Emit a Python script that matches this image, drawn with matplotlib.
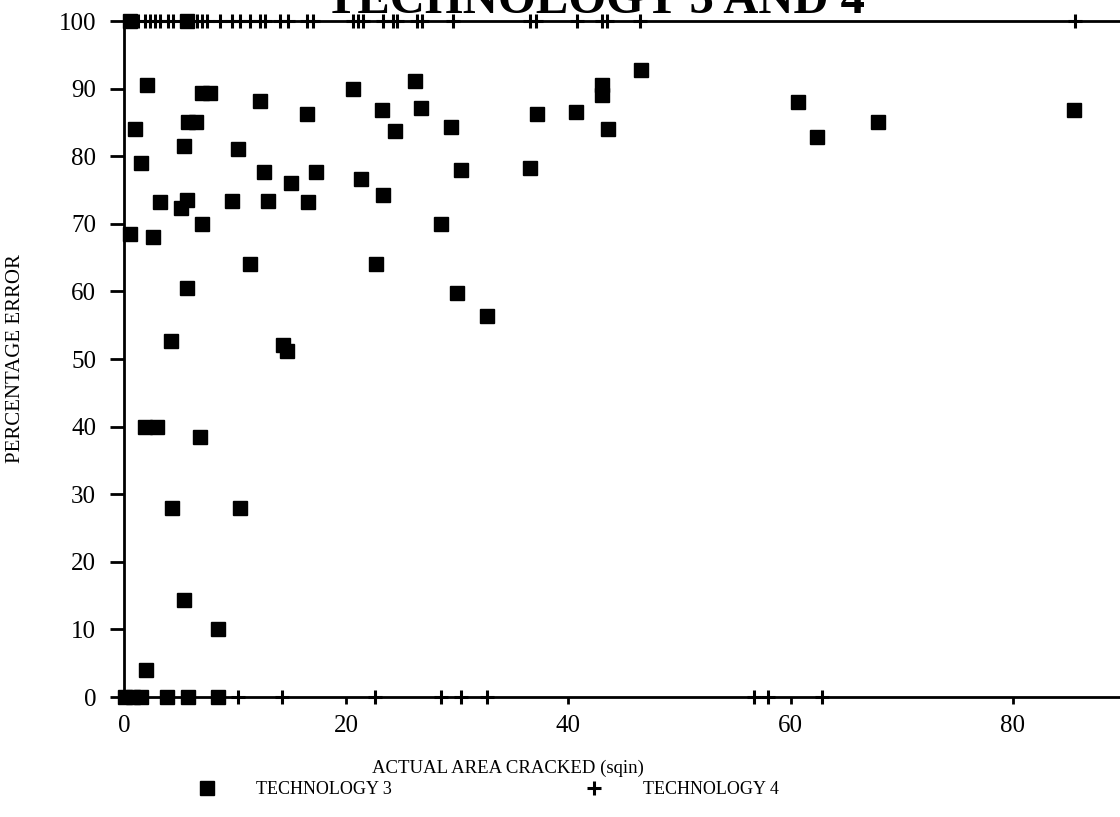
import matplotlib
matplotlib.use("Agg")
import matplotlib.pyplot as plt
from matplotlib.lines import Line2D

# technology 3: actual area cracked (sqin) against percentage error
tech3_area = [0.5, 5.7,
              0.1, 0.8, 1.5, 3.9, 5.8, 8.5,
              0.5, 1.0, 1.5, 2.1, 1.9, 3.0, 2.0, 2.6, 3.2, 4.2, 4.3, 5.1,
              5.4, 5.4, 5.7, 5.7, 5.8, 6.5, 6.8, 7.0, 7.0, 7.7, 8.5, 9.7,
              10.3, 10.4, 11.3, 12.2, 12.6, 13.0, 14.3, 14.7, 15.0, 16.5,
              16.6, 17.3, 20.6, 21.3, 22.7, 23.2, 23.3, 24.4, 26.2, 26.7,
              28.5, 29.4, 30.0, 30.3, 32.7, 36.5, 37.2, 40.7, 43.0, 43.0,
              43.6, 46.5, 60.7, 62.4, 67.9, 85.5]
tech3_error = [100, 100,
               0, 0, 0, 0, 0, 0,
               68.5, 84, 79, 90.5, 40, 40, 4, 68, 73.2, 52.6, 28, 72.4,
               81.5, 14.3, 73.5, 60.5, 85, 85, 38.5, 70, 89.4, 89.3, 10, 73.3,
               81, 28, 64, 88.2, 77.6, 73.3, 52, 51.2, 76, 86.2,
               73.2, 77.7, 90, 76.7, 64, 86.8, 74.3, 83.8, 91.1, 87.2,
               70, 84.3, 59.8, 78, 56.3, 78.2, 86.3, 86.6, 90.5, 89,
               84, 92.8, 88, 82.8, 85, 86.8]

# technology 4 only reports 100 % or 0 % error
tech4_area = [1.3, 1.9, 2.3, 2.8, 3.2, 4.0, 4.4, 6.6, 7.0, 7.5, 8.6, 9.7,
              10.4, 11.3, 12.2, 12.7, 14.0, 14.8, 16.5, 17.0, 20.6, 21.1,
              21.5, 23.3, 24.2, 24.6, 26.4, 26.8, 29.6, 36.5, 37.1, 40.8,
              43.0, 43.5, 46.4, 85.6,
              10.3, 14.2, 22.6, 28.5, 30.3, 32.7, 56.7, 58.0, 62.8]
tech4_error = [100] * 36 + [0] * 9

x_ticks = [0, 20, 40, 60, 80]
y_ticks = list(range(0, 101, 10))

serif = ["Liberation Serif", "DejaVu Serif"]

fig = plt.figure(figsize=(11.2, 8.17), dpi=100)
ax = fig.add_axes([124 / 1120, 120 / 817, 1111 / 1120, 676 / 817])

ax.plot(tech3_area, tech3_error, linestyle="none", marker="s", ms=9.8,
        color="black", clip_on=False, zorder=4)
ax.plot(tech4_area, tech4_error, linestyle="none", marker="+", ms=10,
        mew=2.2, color="black", clip_on=False, zorder=5)

ax.set_xlim(0, 100)
ax.set_ylim(0, 100)
ax.set_xticks(x_ticks)
ax.set_yticks(y_ticks)
ax.set_xticklabels([str(v) for v in x_ticks], family=serif, fontsize=18)
ax.set_yticklabels([str(v) for v in y_ticks], family=serif, fontsize=18)
ax.tick_params(axis="y", direction="out", length=10, width=2, pad=10)
ax.tick_params(axis="x", direction="out", length=5, width=2, pad=8)

for side in ["left", "bottom", "top"]:
    ax.spines[side].set_linewidth(2)
ax.spines["right"].set_visible(False)

ax.set_ylabel("PERCENTAGE ERROR", family=serif, fontsize=15, labelpad=24)
fig.text(508 / 1120, 1 - 768 / 817, "ACTUAL AREA CRACKED (sqin)",
         family=serif, fontsize=13.5, ha="center", va="center")

fig.text(595 / 1120, 1 - 13 / 817, "TECHNOLOGY 3 AND 4", family=serif,
         fontsize=35, fontweight="bold", ha="center", va="baseline")

handles = [
    Line2D([], [], linestyle="none", marker="s", ms=9.5, color="black"),
    Line2D([], [], linestyle="none", marker="+", ms=10, mew=2.2, color="black"),
]
fig.legend(handles, ["TECHNOLOGY 3", "TECHNOLOGY 4"], ncol=2, frameon=False,
           loc="center", bbox_to_anchor=(484 / 1120, 1 - 790 / 817),
           prop={"family": serif, "size": 13}, handlelength=2,
           handletextpad=1.7, columnspacing=10.2)

fig.savefig("out.png", dpi=100)
